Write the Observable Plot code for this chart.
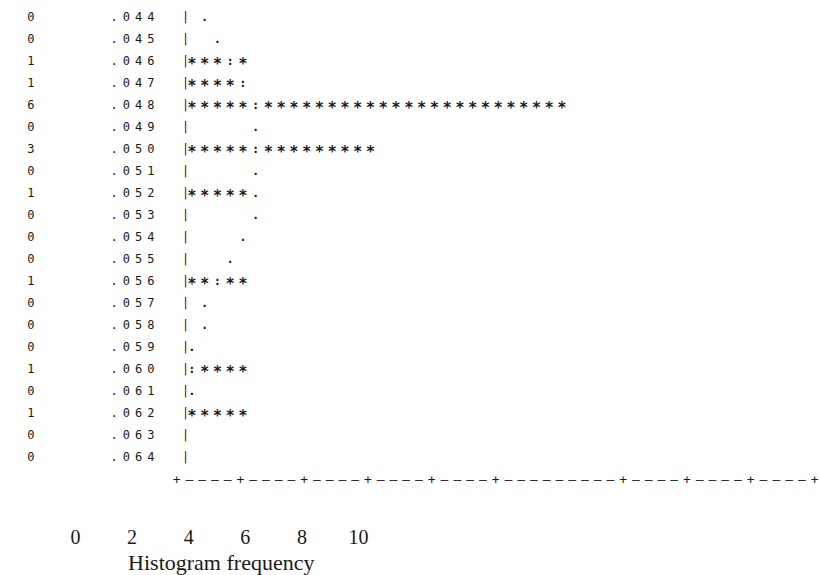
<!DOCTYPE html>
<html><head><meta charset="utf-8">
<script src="https://cdn.jsdelivr.net/npm/d3@7"></script>
<script src="https://cdn.jsdelivr.net/npm/@observablehq/plot@0.6"></script>
<style>
body{margin:0;background:#fff}
#wrap{position:relative;width:819px;height:575px;overflow:hidden}
#wrap svg{position:absolute;left:0;top:0}
</style>
</head><body><div id="wrap"></div>
<script>
// ---- data ----
const bins = [".044",".045",".046",".047",".048",".049",".050",".051",".052",".053",".054",
              ".055",".056",".057",".058",".059",".060",".061",".062",".063",".064"];
const counts = [0,0,1,1,6,0,3,0,1,0,0,0,1,0,0,0,1,0,1,0,0];
// fitted normal curve (expected frequency) drawn as '.' / ':'
const normalCurve = [0.3,0.5,0.7,0.9,1.1,1.1,1.1,1.1,1.1,1.1,0.9,0.7,0.5,0.3,0.3,0.1,0.1,0.1,null,null,null];
const tickLabels = [0,2,4,6,8,10];
const axisTitle = "Histogram frequency";
const rulerSegments = 10;        // "+----" segments on the frequency ruler
const rulerMissingPlus = [6];    // a '+' that did not print
const charsPerCase = 5;          // each case = 5 characters

// ---- build character marks ----
const rows = bins.map((bin, i) => ({bin, count: counts[i], curve: normalCurve[i]}));
const stars = [], curveMarks = [];
rows.forEach(r => {
  const n = r.count * charsPerCase;
  const idx = r.curve == null ? -1 : Math.floor(r.curve * charsPerCase);
  for (let k = 0; k < n; k++) if (k !== idx) stars.push({bin: r.bin, x: (k + 0.5) / charsPerCase});
  if (idx >= 0) curveMarks.push({bin: r.bin, x: (idx + 0.5) / charsPerCase, ch: idx < n ? ":" : "."});
});
const rulerStart = -0.14;
const ruler = d3.range(rulerSegments * charsPerCase + 1).map(j => ({
  x: rulerStart + j / charsPerCase,
  ch: j % charsPerCase === 0 && !rulerMissingPlus.includes(j / charsPerCase) ? "+" : "–"
}));

const mono = "DejaVu Sans Mono";
const sans = "DejaVu Sans";
const ink = "#1a1a1a";

const p1 = Plot.plot({
  width: 819, height: 575,
  marginLeft: 185, marginRight: 0, marginTop: 0, marginBottom: 0,
  x: {domain: [0, 10], range: [185, 823], axis: null},
  y: {type: "point", padding: 0, domain: [...bins, "ruler"], range: [12, 484], axis: null},
  marks: [
    Plot.axisY(bins, {anchor: "left", label: null, tickSize: 0, tickPadding: 26, fontFamily: mono, fontSize: 12, fill: ink}),
    Plot.axisY(bins, {anchor: "left", label: null, tickSize: 0, tickPadding: 146, fontFamily: mono, fontSize: 12, fill: ink,
      tickFormat: d => String(counts[bins.indexOf(d)])}),
    Plot.text(bins, {x: () => 0, y: d => d, text: () => "|", fontFamily: sans, fontSize: 12, fill: ink}),
    Plot.text(stars, {x: "x", y: "bin", text: () => "*", fontFamily: sans, fontSize: 15, fontWeight: "bold", fill: ink, dy: 3}),
    Plot.text(curveMarks, {x: "x", y: "bin", text: "ch", fontFamily: mono, fontSize: 12, fontWeight: "bold", fill: ink}),
    Plot.text(ruler, {x: "x", y: () => "ruler", text: "ch", fontFamily: mono, fontSize: 13, fill: ink})
  ]
});
d3.select(p1).selectAll('g[aria-label="y-axis tick label"]').attr("letter-spacing", "5px");

const p2 = Plot.plot({
  width: 819, height: 575,
  marginLeft: 0, marginRight: 0, marginTop: 0, marginBottom: 0,
  style: {background: "transparent"},
  x: {domain: [0, 10], range: [75, 358], axis: null},
  y: {type: "point", padding: 0, domain: ["ticks", "title"], range: [537, 562], axis: null},
  marks: [
    Plot.text(tickLabels, {x: d => d, y: () => "ticks", text: d => String(d), fontFamily: "Liberation Serif", fontSize: 20, fill: ink}),
    Plot.text([axisTitle], {x: () => 2, y: () => "title", text: d => d, textAnchor: "start", dx: -4, fontFamily: "Liberation Serif", fontSize: 22, fill: ink})
  ]
});
const wrap = document.getElementById("wrap");
wrap.append(p1, p2);
</script>
</body></html>
